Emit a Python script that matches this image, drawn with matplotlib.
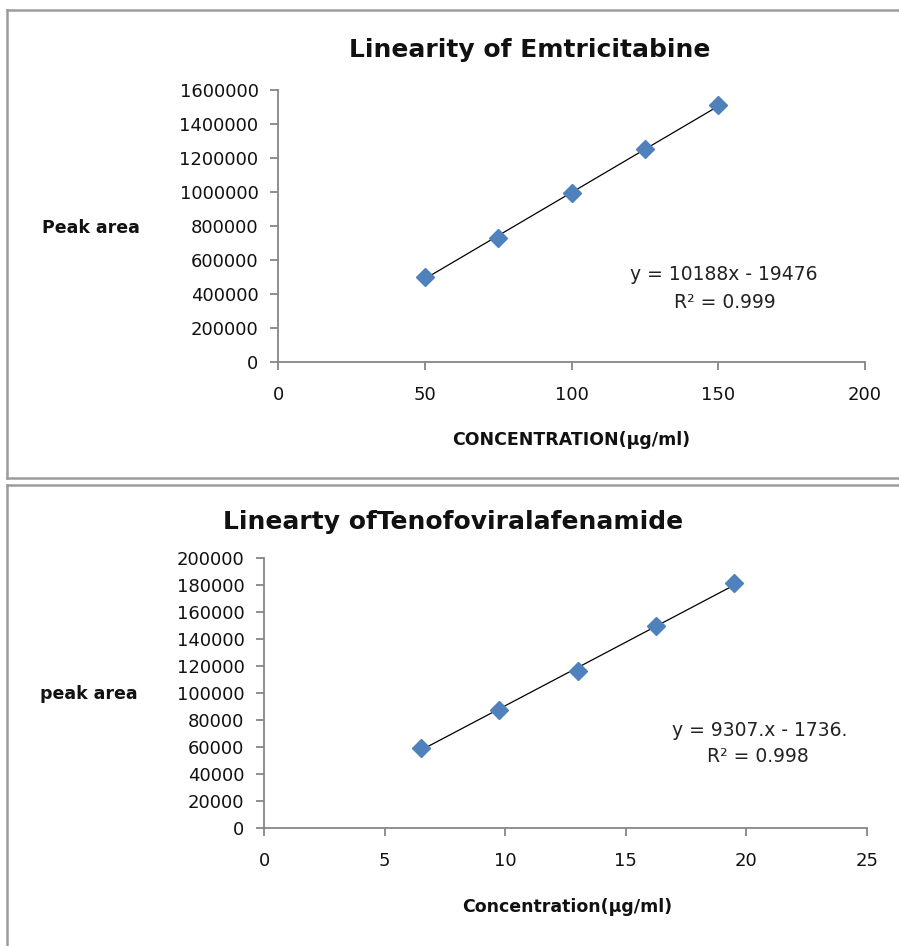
import numpy as np
import matplotlib
matplotlib.use("Agg")
import matplotlib.pyplot as plt
from matplotlib.lines import Line2D

plt.rcParams["font.family"] = ["DejaVu Sans"]

# Emtricitabine linearity
emt_conc = [50, 75, 100, 125, 150]
emt_area = [500000, 730000, 995000, 1250000, 1510000]
emt_eq = "y = 10188x - 19476"
emt_r2 = "R² = 0.999"

# Tenofovir alafenamide linearity
taf_conc = [6.5, 9.75, 13, 16.25, 19.5]
taf_area = [59500, 87500, 116000, 149500, 181500]
taf_eq = "y = 9307.x - 1736."
taf_r2 = "R² = 0.998"

W, H = 899, 946
fig = plt.figure(figsize=(W / 100, H / 100), dpi=100)
fig.patch.set_facecolor("white")

AXIS_GREY = "#868686"
FRAME_GREY = "#9c9c9c"
BLUE = "#4F81BD"


def fx(px):
    return px / W


def fy(py):
    return 1 - py / H


def frame_line(x0, y0, x1, y1):
    fig.add_artist(Line2D([fx(x0), fx(x1)], [fy(y0), fy(y1)],
                          transform=fig.transFigure, color=FRAME_GREY, lw=1.8))


# chart borders
frame_line(7, 10, 899, 10)
frame_line(7, 10, 7, 478)
frame_line(7, 478, 899, 478)
frame_line(7, 485, 899, 485)
frame_line(7, 485, 7, 946)


def draw_panel(box, conc, area, xmax, ymax, ystep, xstep):
    left, top, right, bottom = box
    ax = fig.add_axes([fx(left), fy(bottom), fx(right) - fx(left), fy(top) - fy(bottom)])
    ax.set_xlim(0, xmax)
    ax.set_ylim(0, ymax)
    ax.set_xticks(np.arange(0, xmax + xstep / 2, xstep))
    ax.set_yticks(np.arange(0, ymax + ystep / 2, ystep))
    ax.yaxis.set_major_formatter(matplotlib.ticker.FuncFormatter(lambda v, p: f"{v:.0f}"))
    ax.xaxis.set_major_formatter(matplotlib.ticker.FuncFormatter(lambda v, p: f"{v:g}"))
    for s in ["top", "right"]:
        ax.spines[s].set_visible(False)
    for s in ["left", "bottom"]:
        ax.spines[s].set_color(AXIS_GREY)
        ax.spines[s].set_linewidth(1.3)
    ax.tick_params(axis="both", direction="out", length=6, width=1.3,
                   color=AXIS_GREY, labelsize=13, labelcolor="#111111")
    ax.tick_params(axis="y", pad=8)
    ax.tick_params(axis="x", pad=11)

    slope, intercept = np.polyfit(conc, area, 1)
    xs = np.array([min(conc), max(conc)])
    ax.plot(xs, slope * xs + intercept, color="black", lw=0.9, zorder=2)
    ax.plot(conc, area, linestyle="none", marker="D", ms=9.5,
            color=BLUE, mec=BLUE, zorder=3, clip_on=False)
    ax.patch.set_alpha(0)
    return ax


ax1 = draw_panel((278, 90, 865, 362), emt_conc, emt_area, 200, 1600000, 200000, 50)
ax2 = draw_panel((264, 558, 867, 828), taf_conc, taf_area, 25, 200000, 20000, 5)

# titles
fig.text(fx(530), fy(50), "Linearity of Emtricitabine", ha="center", va="center",
         fontsize=18, fontweight="bold", color="#111111")
fig.text(fx(453), fy(522), "Linearty ofTenofoviralafenamide", ha="center", va="center",
         fontsize=18, fontweight="bold", color="#111111")

# axis labels
fig.text(fx(91), fy(228), "Peak area", ha="center", va="center",
         fontsize=12.5, fontweight="bold", color="#111111")
fig.text(fx(571), fy(440), "CONCENTRATION(µg/ml)", ha="center", va="center",
         fontsize=12.5, fontweight="bold", color="#111111")
fig.text(fx(89), fy(694), "peak area", ha="center", va="center",
         fontsize=12.5, fontweight="bold", color="#111111")
fig.text(fx(567), fy(907), "Concentration(µg/ml)", ha="center", va="center",
         fontsize=12.5, fontweight="bold", color="#111111")

# trendline equations
fig.text(fx(724), fy(274), emt_eq, ha="center", va="center", fontsize=13.5, color="#222222")
fig.text(fx(725), fy(302), emt_r2, ha="center", va="center", fontsize=13.5, color="#222222")
fig.text(fx(760), fy(730), taf_eq, ha="center", va="center", fontsize=13.5, color="#222222")
fig.text(fx(758), fy(757), taf_r2, ha="center", va="center", fontsize=13.5, color="#222222")

fig.savefig("out.png", dpi=100)
